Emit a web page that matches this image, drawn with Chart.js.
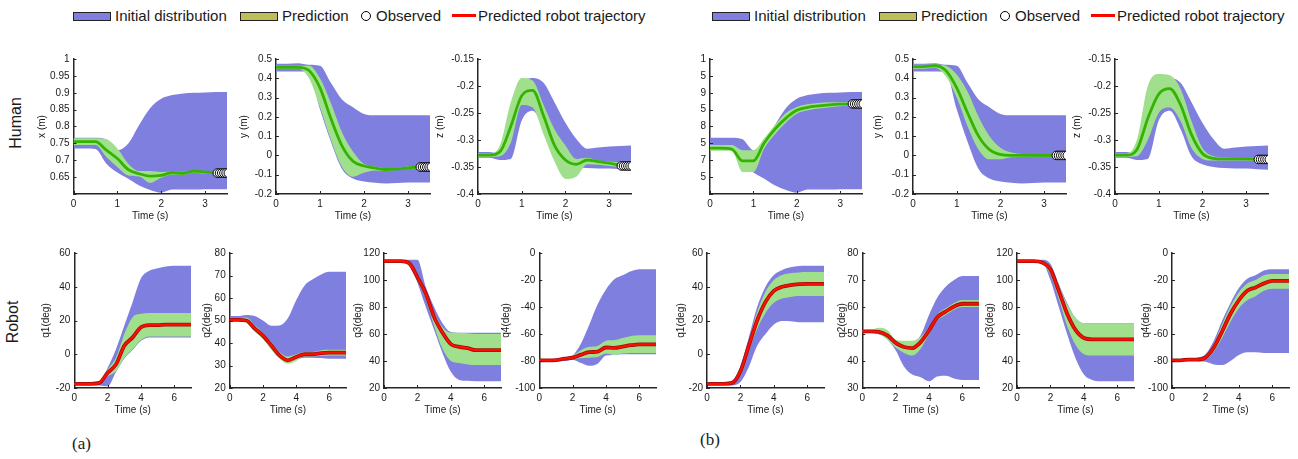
<!DOCTYPE html>
<html>
<head>
<meta charset="utf-8">
<script src="https://cdn.jsdelivr.net/npm/chart.js@4.4.1/dist/chart.umd.min.js"></script>
<style>
  body { margin: 0; width: 1298px; height: 459px; background: #fff; position: relative; overflow: hidden;
         font-family: "Liberation Sans", Arial, sans-serif; color: #1a1a1a; }
  .abs { position: absolute; }
  .leg { position: absolute; top: 8px; font-size: 15px; line-height: 16px; white-space: nowrap; }
  .sw { position: absolute; top: 12px; width: 36px; height: 7px; border: 1px solid #222; }
  .dot { position: absolute; top: 11px; width: 8px; height: 8px; border: 1px solid #000; border-radius: 50%; background: #fff; }
  .redl { position: absolute; top: 14px; width: 24px; height: 3px; background: #f00; }
  .rowlab { position: absolute; font-size: 16px; transform: translate(-50%, -50%) rotate(-90deg); white-space: nowrap; }
  .sub { position: absolute; font-family: "Liberation Serif", "Times New Roman", serif; font-size: 17px; }
</style>
</head>
<body>
<div id="wrap"></div>
<script>
// time grids (s)
const tHuman = [0, 0.25, 0.5, 0.75, 1, 1.25, 1.5, 1.75, 2, 2.25, 2.5, 2.75, 3, 3.25, 3.5];
const tRobot = [0, 0.5, 1, 1.5, 2, 2.5, 3, 3.5, 4, 4.5, 5, 5.5, 6, 6.5, 7];
const tObserved = [3.28, 3.33, 3.38, 3.43, 3.48, 3.53];

// human x (m)
const xInitLo = [0.735, 0.735, 0.733, 0.69, 0.664, 0.645, 0.625, 0.612, 0.604, 0.613, 0.613, 0.613, 0.614, 0.614, 0.614];
const xInitHi = [0.767, 0.767, 0.767, 0.762, 0.73, 0.75, 0.805, 0.855, 0.882, 0.893, 0.898, 0.9, 0.901, 0.902, 0.902];
const xMeanA = [0.755, 0.755, 0.755, 0.73, 0.705, 0.672, 0.66, 0.653, 0.655, 0.663, 0.661, 0.668, 0.665, 0.663, 0.663];
const xPredHiA = [0.765, 0.765, 0.765, 0.762, 0.735, 0.69, 0.668, 0.668, 0.665, 0.667, 0.666, 0.67, 0.668, 0.666, 0.666];
const xPredLoA = [0.745, 0.745, 0.745, 0.71, 0.68, 0.655, 0.652, 0.633, 0.648, 0.657, 0.657, 0.663, 0.66, 0.659, 0.659];
const xMeanB = [0.736, 0.736, 0.733, 0.698, 0.698, 0.752, 0.793, 0.825, 0.848, 0.857, 0.861, 0.864, 0.866, 0.867, 0.867];
const xPredHiB = [0.745, 0.745, 0.745, 0.73, 0.73, 0.765, 0.805, 0.84, 0.858, 0.866, 0.87, 0.872, 0.872, 0.872, 0.872];
const xPredLoB = [0.728, 0.728, 0.728, 0.665, 0.665, 0.735, 0.778, 0.812, 0.838, 0.848, 0.853, 0.857, 0.86, 0.862, 0.862];
const xObsA = [0.662, 0.662, 0.662, 0.662, 0.662, 0.662];
const xObsB = [0.867, 0.867, 0.867, 0.867, 0.867, 0.867];

// human y (m)
const yInitLo = [0.435, 0.435, 0.435, 0.43, 0.24, 0.07, -0.07, -0.12, -0.135, -0.142, -0.145, -0.143, -0.14, -0.14, -0.14];
const yInitHi = [0.475, 0.475, 0.478, 0.47, 0.465, 0.375, 0.29, 0.25, 0.215, 0.208, 0.208, 0.208, 0.208, 0.208, 0.208];
const yMeanA = [0.457, 0.457, 0.457, 0.44, 0.35, 0.19, 0.05, -0.03, -0.055, -0.065, -0.073, -0.07, -0.064, -0.06, -0.058];
const yPredHiA = [0.465, 0.465, 0.465, 0.465, 0.4, 0.27, 0.12, 0.02, -0.045, -0.058, -0.066, -0.064, -0.058, -0.054, -0.052];
const yPredLoA = [0.45, 0.45, 0.45, 0.4, 0.25, 0.08, -0.06, -0.11, -0.09, -0.078, -0.08, -0.074, -0.07, -0.066, -0.064];
const yMeanB = [0.46, 0.46, 0.465, 0.44, 0.35, 0.22, 0.1, 0.03, 0.005, 0, 0, 0, 0, 0, 0];
const yPredHiB = [0.47, 0.47, 0.472, 0.465, 0.42, 0.33, 0.2, 0.1, 0.04, 0.015, 0.008, 0.005, 0.005, 0.005, 0.005];
const yPredLoB = [0.45, 0.45, 0.455, 0.41, 0.3, 0.15, 0.03, -0.02, -0.02, -0.01, -0.008, -0.005, -0.005, -0.005, -0.005];
const yObsA = [-0.06, -0.06, -0.06, -0.06, -0.06, -0.06];
const yObsB = [0, 0, 0, 0, 0, 0];

// human z (m)
const zInitLo = [-0.333, -0.333, -0.337, -0.335, -0.264, -0.246, -0.28, -0.33, -0.345, -0.35, -0.352, -0.353, -0.353, -0.354, -0.355];
const zInitHi = [-0.322, -0.322, -0.325, -0.24, -0.195, -0.185, -0.194, -0.23, -0.268, -0.298, -0.316, -0.314, -0.312, -0.311, -0.31];
const zMeanA = [-0.328, -0.328, -0.322, -0.275, -0.218, -0.208, -0.255, -0.31, -0.337, -0.345, -0.337, -0.34, -0.343, -0.346, -0.348];
const zPredHiA = [-0.325, -0.325, -0.31, -0.23, -0.185, -0.19, -0.235, -0.28, -0.31, -0.335, -0.333, -0.338, -0.34, -0.342, -0.343];
const zPredLoA = [-0.331, -0.331, -0.33, -0.305, -0.235, -0.24, -0.29, -0.34, -0.372, -0.368, -0.345, -0.346, -0.348, -0.35, -0.352];
const zMeanB = [-0.328, -0.328, -0.318, -0.26, -0.215, -0.205, -0.235, -0.29, -0.325, -0.334, -0.335, -0.335, -0.335, -0.336, -0.336];
const zPredHiB = [-0.325, -0.325, -0.3, -0.2, -0.178, -0.18, -0.205, -0.265, -0.315, -0.33, -0.332, -0.333, -0.333, -0.333, -0.333];
const zPredLoB = [-0.331, -0.331, -0.33, -0.3, -0.25, -0.24, -0.265, -0.315, -0.335, -0.338, -0.338, -0.338, -0.338, -0.339, -0.339];
const zObsA = [-0.348, -0.348, -0.348, -0.348, -0.348, -0.348];
const zObsB = [-0.336, -0.336, -0.336, -0.336, -0.336, -0.336];

// robot joints (deg), case (a)
const q1InitLoA = [-18, -18, -18, -18.5, -19, -10.5, -2.5, 2.5, 8, 10, 10, 10, 10, 10, 10];
const q1InitHiA = [-17, -17, -17, -17, -8, 3, 17, 31, 45, 49.5, 51, 52, 52.5, 52.5, 52.5];
const q1MeanA = [-17.5, -17.5, -17.5, -17, -11, -6, 5, 10, 16, 17.3, 17.3, 17.5, 17.5, 17.5, 17.5];
const q1PredHiA = [-17, -17, -17, -16.5, -9, -2, 12, 22, 24, 24.5, 24.5, 24.5, 24.5, 24.5, 24.5];
const q1PredLoA = [-18, -18, -18, -17.5, -13, -10, -2, 3, 8.5, 10.5, 10.5, 10.5, 10.5, 10.5, 10.5];

const q2InitLoA = [50, 50, 49.5, 45.5, 42.3, 37.5, 33.5, 31.5, 32.5, 33.5, 33.5, 33.3, 33, 33, 33];
const q2InitHiA = [52, 52, 52.5, 52, 50, 47.7, 47.8, 51, 59, 65.5, 68.3, 70.5, 71.7, 71.7, 71.7];
const q2MeanA = [50.3, 50.3, 50, 46.5, 43.3, 39, 34.5, 32.3, 33.8, 35, 35, 35.5, 35.7, 35.7, 35.7];
const q2PredHiA = [51, 51, 51.3, 48, 44.5, 40.5, 36, 34, 35, 36, 36, 36.8, 37, 37, 37];
const q2PredLoA = [49.7, 49.7, 49, 45, 41.8, 37, 33, 30.8, 32, 34, 34, 34.3, 34.5, 34.5, 34.5];

const q3InitLoA = [113.5, 113.5, 113.5, 113, 98, 80, 63, 46, 32, 26, 25.3, 25, 25, 25, 25];
const q3InitHiA = [114.5, 114.5, 114.5, 115, 115, 95, 80, 68, 61.5, 61, 61, 61, 61, 61, 61];
const q3MeanA = [114, 114, 114, 112.5, 102, 90, 72.5, 61, 52.5, 50.5, 49.5, 48, 48, 48, 48];
const q3PredHiA = [114.5, 114.5, 114.5, 114, 104, 91, 76, 65, 61, 61, 60.5, 60, 60, 60, 60];
const q3PredLoA = [113.5, 113.5, 113.5, 111, 100, 86, 66, 49, 40, 38.5, 37.5, 37, 37, 37, 37];

const q4InitLoA = [-80, -80, -80, -80, -79, -81.5, -83.5, -82, -76, -75.5, -75, -75, -75, -75, -75];
const q4InitHiA = [-78.5, -78.5, -78.5, -78.5, -76, -67, -53, -38, -27, -19.5, -16.5, -13.5, -12, -12, -12];
const q4MeanA = [-79.5, -79.5, -79.3, -78.3, -77.5, -75.3, -73.5, -73, -70, -70.3, -69.3, -68.3, -67.7, -67.7, -67.7];
const q4PredHiA = [-78.8, -78.8, -78.8, -77.5, -76, -72, -69.5, -68.8, -65, -64.5, -63, -61.5, -61, -61, -61];
const q4PredLoA = [-80, -80, -80, -79, -78.5, -78, -77.5, -77, -74.5, -75.5, -74.5, -74, -74, -74, -74];

// robot joints (deg), case (b)
const q1InitLoB = [-18, -18, -18, -18.5, -16.5, -7.5, 5, 12, 17.7, 19.7, 19.5, 19, 19, 19, 19];
const q1InitHiB = [-16.5, -16.5, -16.5, -16.5, -7, 10, 28, 40, 47, 50, 51.5, 52.3, 52.5, 52.5, 52.5];
const q1MeanB = [-17.5, -17.5, -17.5, -17, -10, 5, 20, 31, 37.5, 40, 41, 41.5, 41.7, 41.7, 41.7];
const q1PredHiB = [-17, -17, -17, -16.5, -8, 8, 25, 37, 44, 47, 48, 48.5, 48.7, 48.7, 48.7];
const q1PredLoB = [-18, -18, -18, -17.5, -12, 2, 15, 24.5, 30.5, 33, 34, 34.5, 34.5, 34.5, 34.5];

const q2InitLoB = [50.5, 50.5, 49.8, 48, 44, 38, 35, 34, 32.5, 34.3, 34.5, 33.5, 33, 33, 33];
const q2InitHiB = [51.5, 51.5, 51.5, 50, 47.5, 47, 47, 49.5, 57, 63.5, 67.5, 70, 71.5, 71.5, 71.5];
const q2MeanB = [51, 51, 50.8, 49.5, 46.7, 45.2, 44.8, 47, 51.3, 56.2, 58.3, 60.2, 61.2, 61.2, 61.2];
const q2PredHiB = [51.6, 51.6, 52.3, 51.5, 48, 47.5, 47.5, 49, 52.5, 57.3, 59.5, 61.5, 62.6, 62.6, 62.6];
const q2PredLoB = [50.5, 50.5, 50, 48, 45, 43, 42, 44.5, 50, 55, 57, 59, 60, 60, 60];

const q3InitLoB = [113.5, 113.5, 113.5, 113, 100, 80, 60, 42, 30, 26, 25, 25, 25, 25, 25];
const q3InitHiB = [114.5, 114.5, 114.5, 115, 112, 97, 83, 72, 68, 68, 68, 68, 68, 68, 68];
const q3MeanB = [114, 114, 114, 113, 108, 92, 75, 63, 57, 56, 56, 56, 56, 56, 56];
const q3PredHiB = [114.5, 114.5, 114.5, 114, 110, 96, 82, 72, 68, 68, 68, 68, 68, 68, 68];
const q3PredLoB = [113.5, 113.5, 113.5, 112, 104, 86, 66, 52, 45, 44, 44, 44, 44, 44, 44];

const q4InitLoB = [-80, -80, -80, -80, -80.5, -82.5, -83, -80, -75.5, -73.5, -73.5, -74, -74, -74, -74];
const q4InitHiB = [-79, -79, -78, -77.5, -75, -65, -50, -37, -26, -19, -16.5, -13, -12, -12, -12];
const q4MeanB = [-79.5, -79.5, -79, -79, -77.5, -70, -58, -45, -35, -28, -25.5, -22.5, -20.6, -20.6, -20.6];
const q4PredHiB = [-79, -79, -78.5, -78.5, -76, -67, -53, -39.5, -29, -22.5, -20, -16.5, -15.5, -15.5, -15.5];
const q4PredLoB = [-80, -80, -79.5, -79.5, -79, -73, -63, -51, -41, -35, -32, -28, -26.5, -26.5, -26.5];

const BLUE = '#7f7fdf';
const LIGHTGREEN = '#a0e08c';
const GREEN = '#34b300';
const RED = '#ff0d00';
const AXIS = '#262626';

Chart.defaults.font.family = "'Liberation Sans', Arial, sans-serif";
Chart.defaults.font.size = 10;
Chart.defaults.color = '#1a1a1a';

const PAD_T = 8, PAD_R = 8, X_H = 28;

const innerTicks = {
  id: 'innerTicks',
  afterDraw(chart) {
    const { ctx, chartArea: a, scales: { x, y } } = chart;
    ctx.save();
    ctx.strokeStyle = AXIS;
    ctx.lineWidth = 1;
    ctx.beginPath();
    x.ticks.forEach(t => { const px = Math.round(x.getPixelForValue(t.value)) + 0.5; ctx.moveTo(px, a.bottom); ctx.lineTo(px, a.bottom - 3); });
    y.ticks.forEach(t => { const py = Math.round(y.getPixelForValue(t.value)) + 0.5; ctx.moveTo(a.left, py); ctx.lineTo(a.left + 3, py); });
    ctx.stroke();
    ctx.restore();
  }
};

function pts(t, v) { return v.map((y, i) => ({ x: t[i], y })); }
function fmt(v) { return parseFloat(v.toFixed(2)).toString(); }

function band(t, lo, hi, color, order) {
  return [
    { data: pts(t, lo), borderWidth: 0, pointRadius: 0, fill: false, cubicInterpolationMode: 'monotone', order },
    { data: pts(t, hi), borderWidth: 0, pointRadius: 0, fill: '-1', backgroundColor: color, cubicInterpolationMode: 'monotone', order }
  ];
}

function panel(p) {
  const divLeft = p.titleX - 6;
  const yW = p.left - divLeft;
  const w = yW + (p.right - p.left) + PAD_R;
  const h = PAD_T + (p.bottom - p.top) + X_H;
  const div = document.createElement('div');
  div.className = 'abs';
  div.style.left = divLeft + 'px';
  div.style.top = (p.top - PAD_T) + 'px';
  const cv = document.createElement('canvas');
  cv.width = w; cv.height = h;
  div.appendChild(cv);
  document.getElementById('wrap').appendChild(div);

  const ds = [...band(p.t, p.lo, p.hi, BLUE, 4), ...band(p.t, p.plo, p.phi, LIGHTGREEN, 3)];
  if (p.robot) {
    ds.push({ data: pts(p.t, p.mean), borderColor: '#9a1010', borderWidth: 3.8, pointRadius: 0, fill: false, cubicInterpolationMode: 'monotone', order: 2 });
    ds.push({ data: pts(p.t, p.mean), borderColor: RED, borderWidth: 2.2, pointRadius: 0, fill: false, cubicInterpolationMode: 'monotone', order: 1 });
  } else {
    ds.push({ data: pts(p.t, p.mean), borderColor: GREEN, borderWidth: 2.8, pointRadius: 0, fill: false, cubicInterpolationMode: 'monotone', order: 2 });
    ds.push({ data: pts(tObserved, p.obs), showLine: false, pointRadius: 4.3, pointBorderWidth: 1,
              pointBackgroundColor: '#fff', pointBorderColor: '#000', clip: 0, order: 1 });
  }

  new Chart(cv, {
    type: 'line',
    data: { datasets: ds },
    options: {
      responsive: false, animation: false, events: [],
      layout: { padding: { top: PAD_T, right: PAD_R, left: 0, bottom: 0 } },
      plugins: { legend: { display: false }, tooltip: { enabled: false } },
      scales: {
        x: {
          type: 'linear', min: 0, max: p.robot ? 7 : 3.5, z: 1,
          ticks: { stepSize: p.robot ? 2 : 1, includeBounds: false, padding: 4, maxRotation: 0 },
          grid: { display: false, drawTicks: false },
          border: { color: AXIS, width: 1.5 },
          title: { display: true, text: 'Time (s)', padding: 0 },
          afterFit(s) { s.height = X_H; }
        },
        y: {
          type: 'linear', min: p.yMin, max: p.yMax, z: 1,
          ticks: { stepSize: p.yStep, includeBounds: false, padding: 4,
                   callback: p.tickFmt || (v => fmt(v)) },
          grid: { display: false, drawTicks: false },
          border: { color: AXIS, width: 1.5 },
          title: { display: !!p.title, text: p.title || '', padding: 0 },
          afterFit(s) { s.width = yW; }
        }
      }
    },
    plugins: [innerTicks]
  });
}

const topT = 57, topB = 194, botT = 251, botB = 388;
const hide06 = v => (Math.abs(v - 0.6) < 1e-6 ? '' : fmt(v));
const lastDigit = v => (Math.abs(v - 0.6) < 1e-6 ? '' : fmt(v).slice(-1));

const panels = [
  { left: 73, right: 227, top: topT, bottom: topB, titleX: 41.5, title: 'x (m)', t: tHuman, lo: xInitLo, hi: xInitHi, plo: xPredLoA, phi: xPredHiA, mean: xMeanA, obs: xObsA, yMin: 0.6, yMax: 1, yStep: 0.05, tickFmt: hide06 },
  { left: 276, right: 430, top: topT, bottom: topB, titleX: 244, title: 'y (m)', t: tHuman, lo: yInitLo, hi: yInitHi, plo: yPredLoA, phi: yPredHiA, mean: yMeanA, obs: yObsA, yMin: -0.2, yMax: 0.5, yStep: 0.1 },
  { left: 478, right: 631, top: topT, bottom: topB, titleX: 440, title: 'z (m)', t: tHuman, lo: zInitLo, hi: zInitHi, plo: zPredLoA, phi: zPredHiA, mean: zMeanA, obs: zObsA, yMin: -0.4, yMax: -0.15, yStep: 0.05 },
  { left: 710, right: 862, top: topT, bottom: topB, titleX: 690, title: '', t: tHuman, lo: xInitLo, hi: xInitHi, plo: xPredLoB, phi: xPredHiB, mean: xMeanB, obs: xObsB, yMin: 0.6, yMax: 1, yStep: 0.05, tickFmt: lastDigit },
  { left: 913, right: 1066, top: topT, bottom: topB, titleX: 878, title: 'y (m)', t: tHuman, lo: yInitLo, hi: yInitHi, plo: yPredLoB, phi: yPredHiB, mean: yMeanB, obs: yObsB, yMin: -0.2, yMax: 0.5, yStep: 0.1 },
  { left: 1115, right: 1268, top: topT, bottom: topB, titleX: 1077, title: 'z (m)', t: tHuman, lo: zInitLo, hi: zInitHi, plo: zPredLoB, phi: zPredHiB, mean: zMeanB, obs: zObsB, yMin: -0.4, yMax: -0.15, yStep: 0.05 },

  { robot: true, left: 74, right: 191, top: botT, bottom: botB, titleX: 45.7, title: 'q1(deg)', t: tRobot, lo: q1InitLoA, hi: q1InitHiA, plo: q1PredLoA, phi: q1PredHiA, mean: q1MeanA, yMin: -20, yMax: 60, yStep: 20 },
  { robot: true, left: 230, right: 347, top: botT, bottom: botB, titleX: 207.3, title: 'q2(deg)', t: tRobot, lo: q2InitLoA, hi: q2InitHiA, plo: q2PredLoA, phi: q2PredHiA, mean: q2MeanA, yMin: 20, yMax: 80, yStep: 10 },
  { robot: true, left: 384, right: 501, top: botT, bottom: botB, titleX: 358, title: 'q3(deg)', t: tRobot, lo: q3InitLoA, hi: q3InitHiA, plo: q3PredLoA, phi: q3PredHiA, mean: q3MeanA, yMin: 20, yMax: 120, yStep: 20 },
  { robot: true, left: 539, right: 656, top: botT, bottom: botB, titleX: 505.7, title: 'q4(deg)', t: tRobot, lo: q4InitLoA, hi: q4InitHiA, plo: q4PredLoA, phi: q4PredHiA, mean: q4MeanA, yMin: -100, yMax: 0, yStep: 20 },
  { robot: true, left: 707, right: 824, top: botT, bottom: botB, titleX: 681, title: 'q1(deg)', t: tRobot, lo: q1InitLoB, hi: q1InitHiB, plo: q1PredLoB, phi: q1PredHiB, mean: q1MeanB, yMin: -20, yMax: 60, yStep: 20 },
  { robot: true, left: 862, right: 979, top: botT, bottom: botB, titleX: 841.7, title: 'q2(deg)', t: tRobot, lo: q2InitLoB, hi: q2InitHiB, plo: q2PredLoB, phi: q2PredHiB, mean: q2MeanB, yMin: 30, yMax: 80, yStep: 10 },
  { robot: true, left: 1017, right: 1134, top: botT, bottom: botB, titleX: 990, title: 'q3(deg)', t: tRobot, lo: q3InitLoB, hi: q3InitHiB, plo: q3PredLoB, phi: q3PredHiB, mean: q3MeanB, yMin: 20, yMax: 120, yStep: 20 },
  { robot: true, left: 1172, right: 1289, top: botT, bottom: botB, titleX: 1146, title: 'q4(deg)', t: tRobot, lo: q4InitLoB, hi: q4InitHiB, plo: q4PredLoB, phi: q4PredHiB, mean: q4MeanB, yMin: -100, yMax: 0, yStep: 20 }
];
panels.forEach(panel);

// legends and labels
function legend(x0) {
  const wrap = document.getElementById('wrap');
  const items = [
    ['sw', 0, BLUE], ['leg', 42, 'Initial distribution'],
    ['sw', 167, '#bdbd5a'], ['leg', 209, 'Prediction'],
    ['dot', 288, ''], ['leg', 303, 'Observed'],
    ['redl', 379, ''], ['leg', 405, 'Predicted robot trajectory']
  ];
  items.forEach(([cls, dx, v]) => {
    const e = document.createElement('div');
    e.className = cls;
    e.style.left = (x0 + dx) + 'px';
    if (cls === 'sw') e.style.background = v;
    if (cls === 'leg') e.textContent = v;
    wrap.appendChild(e);
  });
}
legend(73);
legend(712);

function label(cls, text, x, y) {
  const e = document.createElement('div');
  e.className = cls; e.textContent = text;
  e.style.left = x + 'px'; e.style.top = y + 'px';
  document.getElementById('wrap').appendChild(e);
}
label('rowlab', 'Human', 16, 123);
label('rowlab', 'Robot', 13, 322);
label('sub', '(a)', 72, 434);
label('sub', '(b)', 700, 430);
</script>
</body>
</html>
